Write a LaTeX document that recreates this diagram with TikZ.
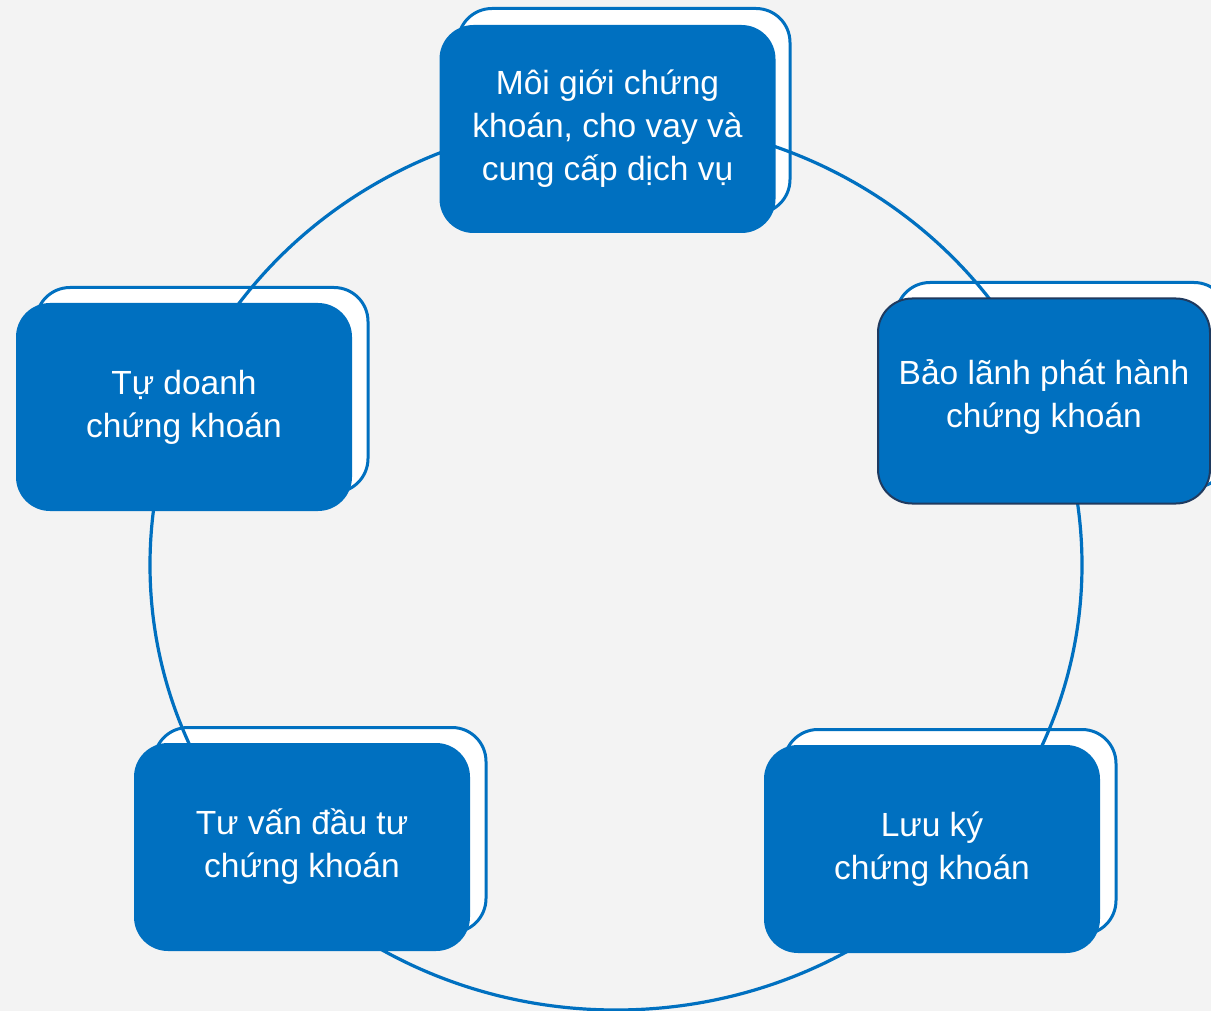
\documentclass[tikz,border=0pt]{standalone}
\usepackage{fontspec}
\setmainfont{Liberation Sans}
\definecolor{pptblue}{HTML}{0070C0}
\definecolor{navyedge}{HTML}{1F3A5F}
\definecolor{bggray}{HTML}{F3F3F3}
\tikzset{
  card/.style={rectangle, rounded corners=34pt, fill=pptblue, text=white,
    minimum width=336pt, minimum height=208pt, align=center,
    font=\fontsize{33.5}{43}\selectfont},
  cardback/.style={rectangle, rounded corners=34pt, draw=pptblue, line width=3pt,
    fill=white, minimum width=332pt, minimum height=205pt},
}

\begin{document}
\begin{tikzpicture}[x=1pt,y=-1pt]
			\fill[bggray] (0,0) rectangle (1211,1011);
			\useasboundingbox (0,0) rectangle (1211,1011);
			
			% back outlines
			\node[cardback] (moigioib) at (624,111) {};
			\node[cardback] (baolanhb) at (1062,385) {};
			\node[cardback] (tudoanhb) at (202,390) {};
			\node[cardback] (tuvanb) at (320,830) {};
			\node[cardback] (luukyb) at (950,832) {};
			
			\coordinate (ring) at (616,565);
			\draw[pptblue, line width=3.2pt] (ring) ellipse (466 and 445);
			
			% front boxes
			\node[card] (moigioi) at (607.5,129) {Môi giới chứng\\khoán, cho vay và\\cung cấp dịch vụ};
			\node[card, draw=navyedge, line width=2pt, minimum width=332pt, minimum height=205pt] (baolanh) at (1044,401) {Bảo lãnh phát hành\\chứng khoán\\[-28pt]};
			\node[card] (tudoanh) at (184,407) {Tự doanh\\chứng khoán};
			\node[card] (tuvan) at (302,847) {Tư vấn đầu tư\\chứng khoán};
			\node[card] (luuky) at (932,849) {Lưu ký\\chứng khoán};
\end{tikzpicture}
\end{document}
